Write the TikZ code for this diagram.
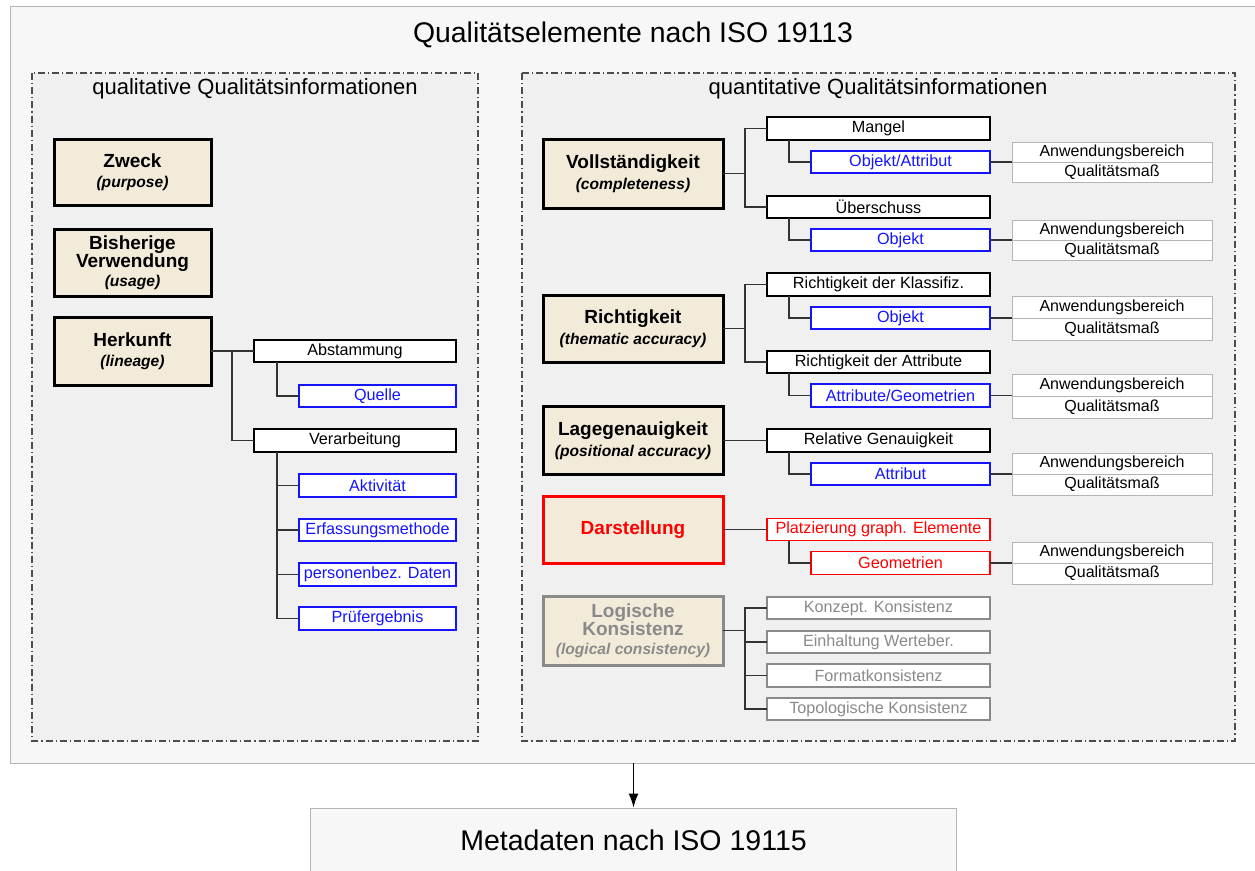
\documentclass[tikz,border=0pt]{standalone}
\usepackage{fontspec}
\setmainfont{Liberation Sans}
\usetikzlibrary{arrows.meta}
\definecolor{beige}{HTML}{F2EBDA}
\definecolor{outerfill}{HTML}{F7F7F7}
\definecolor{innerfill}{HTML}{F0F0F0}
\definecolor{myblue}{HTML}{1414FF}
\definecolor{myred}{HTML}{FF0000}
\definecolor{mygray}{HTML}{8A8A8A}
\definecolor{tabline}{HTML}{B4B4B4}
\definecolor{connline}{HTML}{333333}
\tikzset{
  bigbox/.style={draw=black, line width=3pt, fill=beige, align=center, inner sep=0pt, outer sep=0pt, minimum width=180pt, font=\fontsize{19}{19.5}\selectfont\bfseries},
  leftbig/.style={bigbox, minimum width=157pt},
  subbox/.style={draw=black, line width=1.8pt, fill=white, inner sep=0pt, outer sep=0pt, minimum height=22.5pt, font=\fontsize{16.2}{17}\selectfont},
  lvlone/.style={subbox, minimum width=223pt},
  lvltwo/.style={subbox, minimum width=179pt, draw=myblue, text=myblue},
  llone/.style={subbox, minimum width=202pt},
  lltwo/.style={subbox, minimum width=157pt, draw=myblue, text=myblue},
  tabcell/.style={draw=tabline, line width=1pt, fill=white, inner sep=0pt, outer sep=0pt, minimum width=200pt, font=\fontsize{16}{17}\selectfont},
  conn/.style={draw=connline, line width=1.4pt},
  frame/.style={draw=black!70, line width=1.2pt, dash pattern=on 7pt off 3pt on 1.2pt off 3pt, fill=innerfill},
}
\newcommand{\engl}[1]{\\[1pt]{\fontsize{15.6}{17}\selectfont\bfseries\itshape #1}}
\begin{document}
\begin{tikzpicture}[x=1pt,y=-1pt]
\useasboundingbox (0,0) rectangle (1255,870);
\fill[white] (0,0) rectangle (1255,870);
% outer frame
\draw[draw=tabline, line width=1pt, fill=outerfill] (10,6.5) rectangle (1270,763);
\node[font=\fontsize{28.4}{30}\selectfont] (title) at (633,35) {Qualitätselemente nach ISO 19113};
% inner frames
\draw[frame] (32,73) rectangle (478,741);
\draw[frame] (522,73) rectangle (1235,741);
\node[font=\fontsize{22}{24}\selectfont] (qual) at (255,89) {qualitative Qualitätsinformationen};
\node[font=\fontsize{22}{24}\selectfont] (quant) at (878,89) {quantitative Qualitätsinformationen};

% ---------- left column
\node[leftbig, minimum height=66pt] (zweck) at (132.5,172) {Zweck\engl{(purpose)}};
\node[leftbig, minimum height=67pt] (usage) at (132.5,262.5) {Bisherige\\[-1pt]Verwendung\\[-1pt]{\fontsize{15.6}{17}\selectfont\bfseries\itshape (usage)}};
\node[leftbig, minimum height=68pt] (herk) at (132.5,351) {Herkunft\engl{(lineage)}};

\node[llone] (abst) at (355,351) {Abstammung};
\node[lltwo] (quelle) at (377.5,396) {Quelle};
\node[llone] (verarb) at (355,440.5) {Verarbeitung};
\node[lltwo] (akt) at (377.5,485.5) {Aktivität};
\node[lltwo] (erf) at (377.5,530) {Erfassungsmethode};
\node[lltwo] (pers) at (377.5,574.5) {personenbez. Daten};
\node[lltwo] (pruef) at (377.5,618.5) {Prüfergebnis};

\coordinate (ht) at (232,351);
\draw[conn] (herk.east) -- (abst.west);
\draw[conn] (ht) |- (verarb.west);
\coordinate (at) at (277,0);
\draw[conn] (abst.south -| at) |- (quelle.west);
\draw[conn] (verarb.south -| at) |- (pruef.west);
\foreach \n in {akt,erf,pers} \draw[conn] (\n.west -| at) -- (\n.west);

% ---------- right column
\coordinate (rt) at (745,0);
\coordinate (st) at (789,0);

% Vollstaendigkeit
\node[bigbox, minimum height=69pt] (voll) at (633,173.5) {Vollständigkeit\engl{(completeness)}};
\node[lvlone] (mangel) at (878.5,128.5) {Mangel};
\node[lvltwo] (objattr) at (900.5,162) {Objekt/Attribut};
\node[lvlone] (ueber) at (878.5,207) {Überschuss};
\node[lvltwo] (obj1) at (900.5,240) {Objekt};
\draw[conn] (voll.east) -- (voll.east -| rt);
\draw[conn] (mangel.west) -- (rt |- mangel.west) -- (rt |- ueber.west) -- (ueber.west);
\draw[conn] (mangel.south -| st) |- (objattr.west);
\draw[conn] (ueber.south -| st) |- (obj1.west);

% Richtigkeit
\node[bigbox, minimum height=67pt] (richt) at (633,328.5) {Richtigkeit\engl{(thematic accuracy)}};
\node[lvlone] (klass) at (878.5,284.5) {Richtigkeit der Klassifiz.};
\node[lvltwo] (obj2) at (900.5,318) {Objekt};
\node[lvlone] (rattr) at (878.5,362) {Richtigkeit der Attribute};
\node[lvltwo] (attgeo) at (900.5,395.5) {Attribute/Geometrien};
\draw[conn] (richt.east) -- (richt.east -| rt);
\draw[conn] (klass.west) -- (rt |- klass.west) -- (rt |- rattr.west) -- (rattr.west);
\draw[conn] (klass.south -| st) |- (obj2.west);
\draw[conn] (rattr.south -| st) |- (attgeo.west);

% Lagegenauigkeit
\node[bigbox, minimum height=68pt] (lage) at (633,440.5) {Lagegenauigkeit\engl{(positional accuracy)}};
\node[lvlone] (relgen) at (878.5,440.5) {Relative Genauigkeit};
\node[lvltwo] (attrib) at (900.5,474) {Attribut};
\draw[conn] (lage.east) -- (relgen.west);
\draw[conn] (relgen.south -| st) |- (attrib.west);

% Darstellung
\node[bigbox, draw=myred, text=myred, minimum height=67pt] (darst) at (633,529.5) {Darstellung};
\node[lvlone, draw=myred, text=myred, line width=1.4pt] (platz) at (878.5,529.5) {Platzierung graph. Elemente};
\node[lvltwo, draw=myred, text=myred, line width=1.4pt] (geom) at (900.5,563) {Geometrien};
\draw[conn] (darst.east) -- (platz.west);
\draw[conn] (platz.south -| st) |- (geom.west);

% Logische Konsistenz
\node[bigbox, draw=mygray, text=mygray, minimum height=69pt] (logik) at (633,630.5) {Logische\\[-1pt]Konsistenz\\[-1pt]{\fontsize{15.6}{17}\selectfont\bfseries\itshape (logical consistency)}};
\node[lvlone, draw=mygray, text=mygray, line width=1.6pt] (konz) at (878.5,608) {Konzept. Konsistenz};
\node[lvlone, draw=mygray, text=mygray, line width=1.6pt] (einh) at (878.5,642) {Einhaltung Werteber.};
\node[lvlone, draw=mygray, text=mygray, line width=1.6pt] (form) at (878.5,675.5) {Formatkonsistenz};
\node[lvlone, draw=mygray, text=mygray, line width=1.6pt] (topo) at (878.5,709) {Topologische Konsistenz};
\draw[conn] (logik.east) -- (logik.east -| rt);
\draw[conn] (konz.west) -- (rt |- konz.west) -- (rt |- topo.west) -- (topo.west);
\draw[conn] (rt |- einh.west) -- (einh.west);
\draw[conn] (rt |- form.west) -- (form.west);

% tables
\foreach \nm/\ya/\yb in {t1/142/162, t2/220/240, t3/296/318, t4/374/396, t5/453/474, t6/542/563}{
  \pgfmathsetmacro{\hA}{\yb-\ya}
  \node[tabcell, minimum height=\hA pt, anchor=south] (\nm a) at (1112,\yb) {Anwendungsbereich};
  \node[tabcell, minimum height=\hA pt, anchor=north] (\nm b) at (1112,\yb) {Qualitätsmaß};
}
\draw[conn] (objattr.east) -- (objattr.east -| t1a.west);
\draw[conn] (obj1.east) -- (obj1.east -| t2a.west);
\draw[conn] (obj2.east) -- (obj2.east -| t3a.west);
\draw[conn] (attgeo.east) -- (attgeo.east -| t4a.west);
\draw[conn] (attrib.east) -- (attrib.east -| t5a.west);
\draw[conn] (geom.east) -- (geom.east -| t6a.west);

% Metadaten
\node[draw=tabline, line width=1pt, fill=outerfill, minimum width=646pt, minimum height=80pt, anchor=north, inner sep=0pt] (meta) at (633.5,807.5) {};
\node[font=\fontsize{28.5}{30}\selectfont] (metatext) at (633.5,840) {Metadaten nach ISO 19115};
\coordinate (outbot) at (633.5,763);
\draw[line width=1.3pt, -{Latex[length=14pt,width=10pt]}] (outbot) -- (meta.north);
\end{tikzpicture}
\end{document}
